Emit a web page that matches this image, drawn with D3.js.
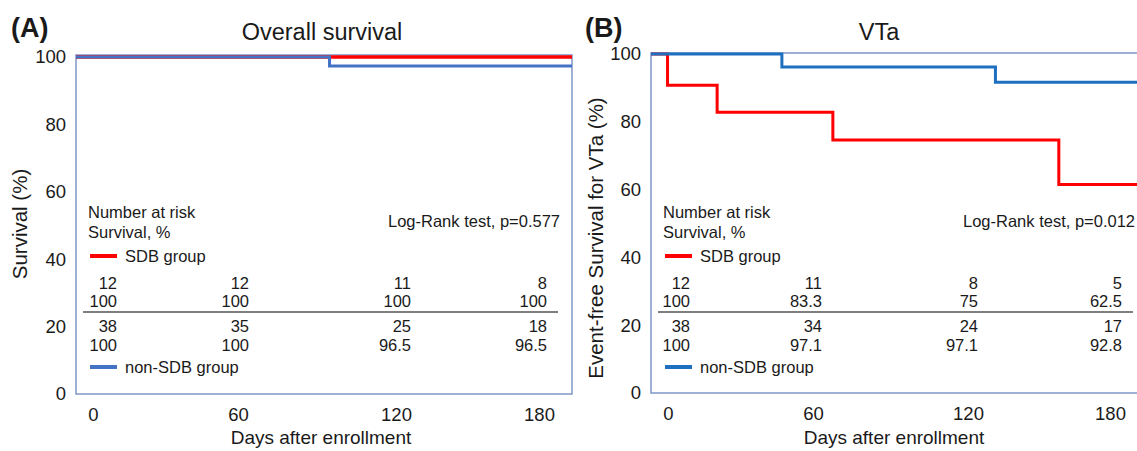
<!DOCTYPE html>
<html><head><meta charset="utf-8">
<script src="https://cdn.jsdelivr.net/npm/d3@7"></script>
<style>
body{margin:0;background:#fff}
svg{display:block;background:#fff}
text{font-family:"Liberation Sans",Arial,Helvetica,sans-serif;fill:#1a1a1a}
</style>
</head><body>
<svg id="chart" width="1137" height="451"></svg>
<script>
// ---------------- DATA ----------------
const xTickLabels = ["0", "60", "120", "180"];
const yTicks = [0, 20, 40, 60, 80, 100];
const panelLetters = ["(A)", "(B)"];
const panelTitles = ["Overall survival", "VTa"];
const yTitles = ["Survival (%)", "Event-free Survival for VTa (%)"];
const logRankTexts = ["Log-Rank test, p=0.577", "Log-Rank test, p=0.012"];
const groupNames = ["SDB group", "non-SDB group"];
const tableHeader = ["Number at risk", "Survival, %"];

// Panel A: overall survival (days, %)
const osSdbDays = [0, 180];
const osSdbSurv = [100, 100];
const osNonDays = [0, 92, 180];
const osNonSurv = [100, 97.3, 97.3];

// Panel B: VTa event-free survival (days, %)
const vtaSdbDays = [0, 6, 24, 66, 148, 180];
const vtaSdbSurv = [100, 90.8, 82.8, 74.6, 61.5, 61.5];
const vtaNonDays = [0, 47.5, 125, 180];
const vtaNonSurv = [100, 96.2, 91.7, 91.7];

// Risk tables
const osSdbRisk = ["12", "12", "11", "8"];
const osSdbPct = ["100", "100", "100", "100"];
const osNonRisk = ["38", "35", "25", "18"];
const osNonPct = ["100", "100", "96.5", "96.5"];
const vtaSdbRisk = ["12", "11", "8", "5"];
const vtaSdbPct = ["100", "83.3", "75", "62.5"];
const vtaNonRisk = ["38", "34", "24", "17"];
const vtaNonPct = ["100", "97.1", "97.1", "92.8"];

// ---------------- LAYOUT ----------------
const RED = "#ff0000";
const panels = [
  {
    left: 76, top: 55, bottom: 394, y100: 57, width: 496,
    blue: "#4472c4",
    tickPos: [17, 162, 320, 463],
    colPos: [41, 173, 335, 471],
    titleX: 246, xTitleX: 245,
    yTitleX: 22, yTitleY: 224,
    series: [
      { days: osSdbDays, surv: osSdbSurv, color: RED, w: 3.5 },
      { days: osNonDays, surv: osNonSurv, color: "#4472c4", w: 3 }
    ],
    rows: [osSdbRisk, osSdbPct, osNonRisk, osNonPct]
  },
  {
    left: 651, top: 53, bottom: 393, y100: 54, width: 496,
    blue: "#1f6fc1",
    tickPos: [17, 162, 317, 459],
    colPos: [39, 171, 327, 471],
    titleX: 228, xTitleX: 243,
    yTitleX: 598, yTitleY: 238,
    series: [
      { days: vtaSdbDays, surv: vtaSdbSurv, color: RED, w: 3 },
      { days: vtaNonDays, surv: vtaNonSurv, color: "#1f6fc1", w: 3 }
    ],
    rows: [vtaSdbRisk, vtaSdbPct, vtaNonRisk, vtaNonPct]
  }
];
const letterX = [11, 585];

const svg = d3.select("#chart");
svg.append("rect").attr("width", 1137).attr("height", 451).attr("fill", "#fff");

panels.forEach((p, i) => {
  const x = d3.scaleLinear().domain([0, 180]).range([p.left, p.left + p.width]);
  const y = d3.scaleLinear().domain([0, 100]).range([p.bottom, p.y100]);
  const g = svg.append("g");

  // panel letter & title
  g.append("text").attr("x", letterX[i]).attr("y", 37)
    .attr("font-size", 27).attr("font-weight", "bold").text(panelLetters[i]);
  g.append("text").attr("x", p.left + p.titleX).attr("y", 40)
    .attr("text-anchor", "middle").attr("font-size", 23.5).text(panelTitles[i]);

  // plot box
  g.append("rect").attr("x", p.left).attr("y", p.top)
    .attr("width", p.width).attr("height", p.bottom - p.top)
    .attr("fill", "none").attr("stroke", "#7f97c9").attr("stroke-width", 1.5);

  // y axis
  const ya = g.append("g").attr("transform", `translate(${p.left},0)`)
    .call(d3.axisLeft(y).tickValues(yTicks).tickSize(0).tickPadding(10).tickFormat(d3.format("d")));
  ya.select(".domain").remove();
  ya.selectAll("text").attr("font-size", 18.5).attr("font-family", "Liberation Sans, Arial, sans-serif").attr("fill", "#1a1a1a");

  // y title
  g.append("text")
    .attr("transform", `translate(${p.yTitleX},${p.yTitleY}) rotate(-90)`)
    .attr("text-anchor", "middle").attr("dominant-baseline", "middle")
    .attr("font-size", 20.5).text(yTitles[i]);

  // x tick labels (ordinal positions, as in the original)
  const xt = d3.scaleOrdinal().domain(xTickLabels).range(p.tickPos.map(v => p.left + v));
  const xa = g.append("g").attr("transform", `translate(0,${p.bottom})`)
    .call(d3.axisBottom(xt).tickSize(0).tickPadding(14));
  xa.select(".domain").remove();
  xa.selectAll("text").attr("font-size", 18.5).attr("font-family", "Liberation Sans, Arial, sans-serif").attr("fill", "#1a1a1a");

  g.append("text").attr("x", p.left + p.xTitleX).attr("y", 444)
    .attr("text-anchor", "middle").attr("font-size", 19).text("Days after enrollment");

  // risk table
  const fs = 16.5;
  g.append("text").attr("x", p.left + 12).attr("y", 218).attr("font-size", fs).text(tableHeader[0]);
  g.append("text").attr("x", p.left + 12).attr("y", 238).attr("font-size", fs).text(tableHeader[1]);
  g.append("text").attr("x", p.left + 484).attr("y", 227).attr("text-anchor", "end")
    .attr("font-size", fs).text(logRankTexts[i]);

  // legend
  const legY = [256, 367];
  const legCol = [RED, p.blue];
  groupNames.forEach((name, k) => {
    g.append("line").attr("x1", p.left + 14).attr("x2", p.left + 41)
      .attr("y1", legY[k]).attr("y2", legY[k])
      .attr("stroke", legCol[k]).attr("stroke-width", 4);
    g.append("text").attr("x", p.left + 49).attr("y", legY[k] + 6)
      .attr("font-size", fs).text(name);
  });

  const col = d3.scaleOrdinal().domain(xTickLabels).range(p.colPos.map(v => p.left + v));
  const rowY = [289, 307, 332, 351];
  p.rows.forEach((row, r) => {
    g.selectAll(null).data(row).enter().append("text")
      .attr("x", (d, j) => col(xTickLabels[j]))
      .attr("y", rowY[r]).attr("text-anchor", "end").attr("font-size", fs).text(d => d);
  });
  g.append("line").attr("x1", p.left + 7).attr("x2", p.left + 482)
    .attr("y1", 312).attr("y2", 312).attr("stroke", "#555").attr("stroke-width", 1.6);

  // survival curves
  const line = d3.line().x(d => x(d[0])).y(d => y(d[1])).curve(d3.curveStepAfter);
  p.series.forEach(s => {
    g.append("path").datum(d3.zip(s.days, s.surv))
      .attr("d", line).attr("fill", "none")
      .attr("stroke", s.color).attr("stroke-width", s.w);
  });
});
</script>
</body></html>
